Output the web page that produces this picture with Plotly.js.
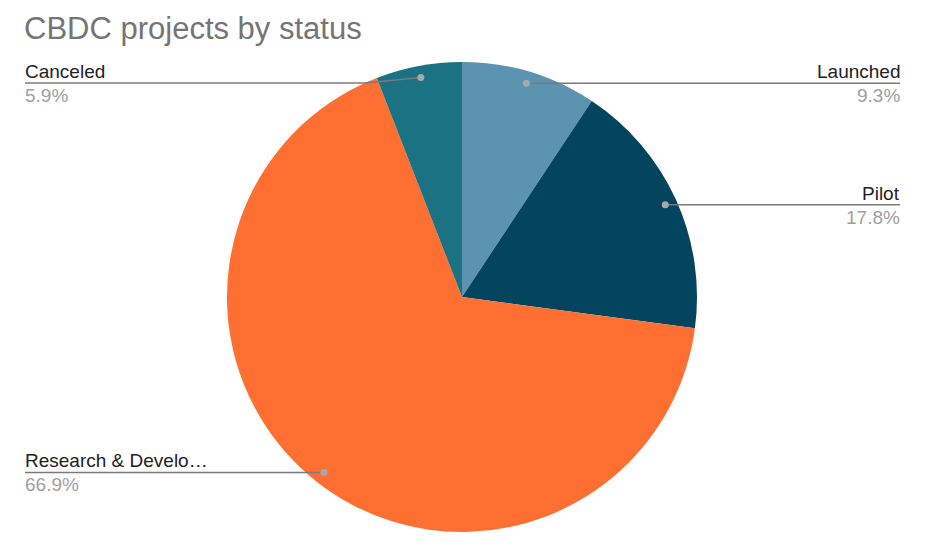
<!DOCTYPE html>
<html>
<head>
<meta charset="utf-8">
<script src="https://cdn.plot.ly/plotly-3.0.1.min.js"></script>
<style>
  html, body { margin: 0; padding: 0; background: #ffffff; }
  #chart { width: 927px; height: 548px; }
</style>
</head>
<body>
<div id="chart"></div>
<script>
// data (clockwise from 12 o'clock)
var categories = ['Launched', 'Pilot', 'Research & Development', 'Canceled'];
var shares = [9.3, 17.8, 66.9, 5.9];
var sliceColors = ['#5b93b0', '#03445f', '#ff6f31', '#1b7283'];

var W = 927, H = 548;
var cx = 462, cy = 297, R = 235;   // pie centre and radius in pixels
var leftX = 25, rightX = 900, topLimit = 83;
var FONT = 'Liberation Sans, Arial, sans-serif';

function px(x) { return x / W; }
function py(y) { return 1 - y / H; }

function shortName(s) {
  return s.length > 18 ? s.slice(0, 17) + '\u2026' : s;
}

var total = shares.reduce(function (a, b) { return a + b; }, 0);
var shapes = [];
var annotations = [];
var acc = 0;

shares.forEach(function (v, i) {
  var mid = (acc + v / 2) / total * 2 * Math.PI;
  acc += v;
  var dx = cx + 0.95 * R * Math.sin(mid);
  var dy = cy - 0.95 * R * Math.cos(mid);
  var right = Math.sin(mid) >= 0;
  var ly = Math.max(dy, topLimit);
  var endX = right ? rightX : leftX;

  if (ly !== dy) {
    // bend at the pie edge, then run to the dot
    var ex = cx + (right ? 1 : -1) * Math.sqrt(R * R - (ly - cy) * (ly - cy));
    shapes.push({type: 'line', xref: 'paper', yref: 'paper',
      x0: px(endX), y0: py(ly), x1: px(ex), y1: py(ly),
      line: {color: '#7a7a7a', width: 1.5}});
    shapes.push({type: 'line', xref: 'paper', yref: 'paper',
      x0: px(ex), y0: py(ly), x1: px(dx), y1: py(dy),
      line: {color: '#7a7a7a', width: 1.5}});
  } else {
    shapes.push({type: 'line', xref: 'paper', yref: 'paper',
      x0: px(endX), y0: py(ly), x1: px(dx), y1: py(dy),
      line: {color: '#7a7a7a', width: 1.5}});
  }
  shapes.push({type: 'circle', xref: 'paper', yref: 'paper',
    x0: px(dx - 3.5), x1: px(dx + 3.5), y0: py(dy - 3.5), y1: py(dy + 3.5),
    fillcolor: '#a8a8a8', line: {width: 0}});

  annotations.push({xref: 'paper', yref: 'paper', x: px(endX), y: py(ly),
    xanchor: right ? 'right' : 'left', yanchor: 'bottom', showarrow: false,
    xshift: right ? 1 : -1, borderpad: 0,
    text: shortName(categories[i]), font: {family: FONT, size: 19, color: '#222222'}});
  annotations.push({xref: 'paper', yref: 'paper', x: px(endX), y: py(ly + 1),
    xanchor: right ? 'right' : 'left', yanchor: 'top', showarrow: false,
    xshift: right ? 1 : -1, borderpad: 0,
    text: v.toFixed(1) + '%', font: {family: FONT, size: 19, color: '#a0a0a0'}});
});

var trace = {
  type: 'pie',
  labels: categories,
  values: shares,
  sort: false,
  direction: 'clockwise',
  rotation: 0,
  textinfo: 'none',
  hoverinfo: 'label+percent',
  marker: {colors: sliceColors, line: {width: 0}},
  domain: {x: [px(cx - R), px(cx + R)], y: [py(cy + R), py(cy - R)]}
};

var layout = {
  width: W,
  height: H,
  margin: {l: 0, r: 0, t: 0, b: 0},
  paper_bgcolor: '#ffffff',
  showlegend: false,
  title: {
    text: 'CBDC projects by status',
    x: px(24), xanchor: 'left', xref: 'paper',
    y: py(17), yanchor: 'top', yref: 'paper',
    font: {family: FONT, size: 31, color: '#757575'}
  },
  shapes: shapes,
  annotations: annotations
};

Plotly.newPlot('chart', [trace], layout, {displayModeBar: false, staticPlot: true});
</script>
</body>
</html>
